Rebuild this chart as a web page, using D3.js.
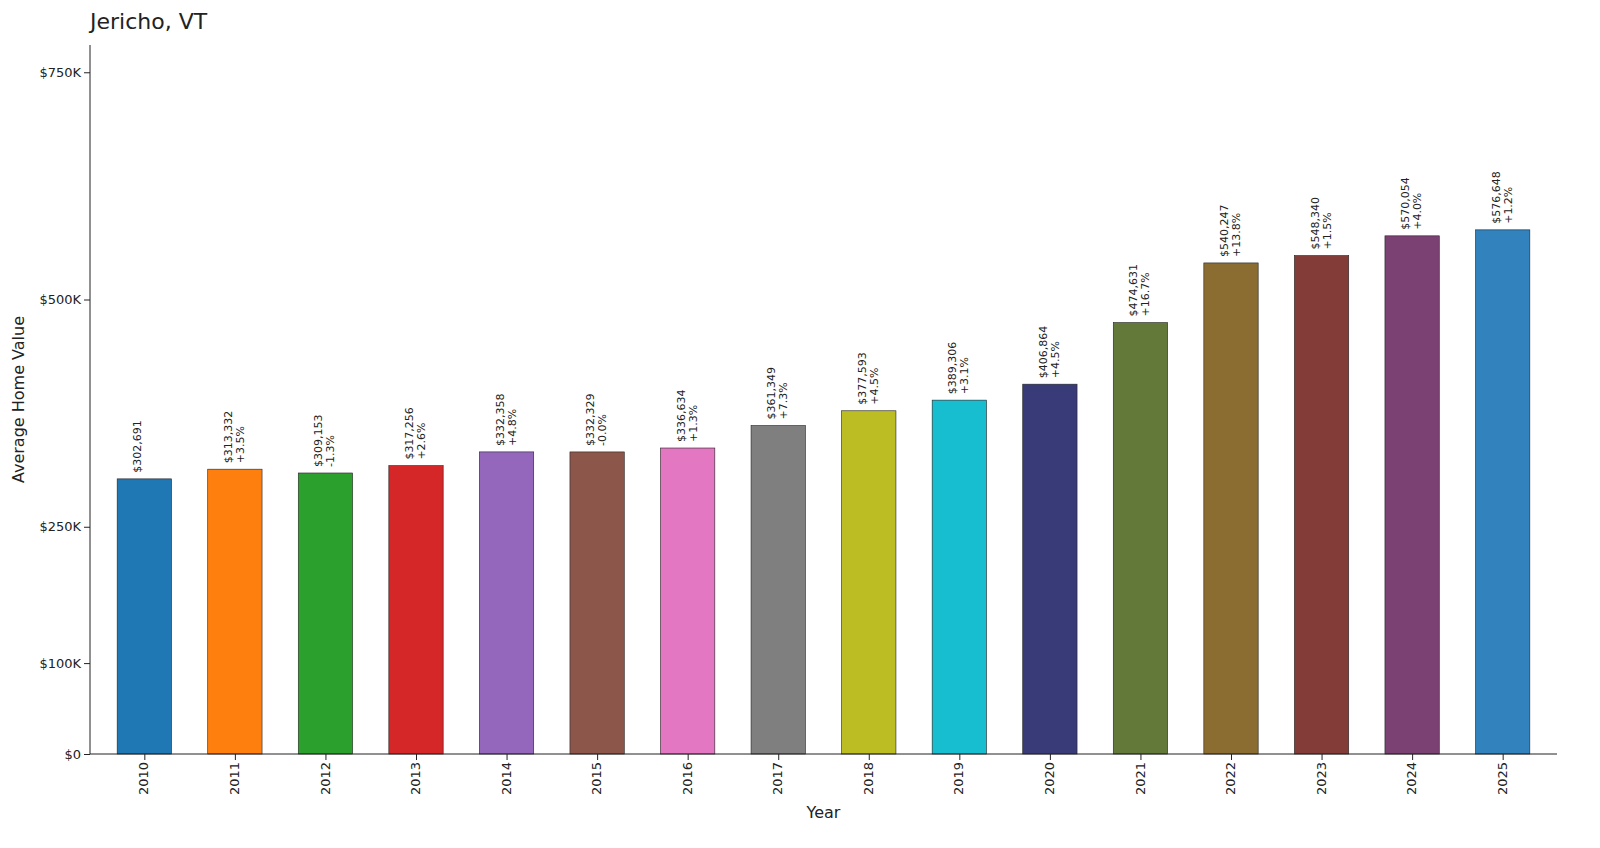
<!DOCTYPE html>
<html><head><meta charset="utf-8">
<script src="https://cdn.jsdelivr.net/npm/d3@7"></script>
<style>html,body{margin:0;padding:0;overflow:hidden;background:#fff;font-family:"DejaVu Sans",sans-serif}svg{display:block}</style>
</head><body><svg id="c" width="1600" height="848"></svg>
<script>
const years=["2010","2011","2012","2013","2014","2015","2016","2017","2018","2019","2020","2021","2022","2023","2024","2025"];
const values=[302691,313332,309153,317256,332358,332329,336634,361349,377593,389306,406864,474631,540247,548340,570054,576648];
const changes=[null,"+3.5%","-1.3%","+2.6%","+4.8%","-0.0%","+1.3%","+7.3%","+4.5%","+3.1%","+4.5%","+16.7%","+13.8%","+1.5%","+4.0%","+1.2%"];
const colors=["#1f77b4","#ff7f0e","#2ca02c","#d62728","#9467bd","#8c564b","#e377c2","#7f7f7f","#bcbd22","#17becf","#393b79","#637939","#8c6d31","#843c39","#7b4173","#3182bd"];
const yTicks=[0,100000,250000,500000,750000];
const yTickLabels=["$0","$100K","$250K","$500K","$750K"];
const svg=d3.select("#c");
const L=90,R=1557,T=45,B=754;
const x=d3.scaleLinear().domain([-0.6,15.6]).range([L,R]);
const y=d3.scaleLinear().domain([0,780000]).range([B,T]);
const bw=x(0.3)-x(-0.3);
svg.selectAll("rect.b").data(values).join("rect").attr("class","b")
 .attr("x",(d,i)=>x(i)-bw/2).attr("width",bw).attr("y",d=>y(d)).attr("height",d=>B-y(d))
 .attr("fill",(d,i)=>colors[i]).attr("stroke","#222").attr("stroke-width",0.6);
const ya=svg.append("g").attr("transform",`translate(${L},0)`)
 .call(d3.axisLeft(y).tickValues(yTicks).tickFormat((d,i)=>yTickLabels[i]).tickSizeOuter(0));
ya.select(".domain").attr("d",`M0,${B}V${T}`);
const xa=svg.append("g").attr("transform",`translate(0,${B})`)
 .call(d3.axisBottom(x).tickValues(d3.range(16)).tickFormat(i=>years[i]).tickSizeOuter(0));
xa.select(".domain").attr("d",`M${L},0H${R}`);
xa.selectAll("text").attr("transform","rotate(-90)").attr("text-anchor","end").attr("x",-8).attr("y",-1).attr("dy","0.35em");
svg.selectAll(".tick text").attr("font-size",13).attr("font-family","DejaVu Sans").attr("fill","#222");
svg.selectAll(".domain,.tick line").attr("stroke","#222");
const lab=svg.selectAll("g.l").data(values).join("g").attr("class","l")
 .attr("transform",(d,i)=>`translate(${x(i)},${y(d)-6}) rotate(-90)`);
lab.append("text").attr("font-size",11).attr("fill","#222").attr("y",-3)
 .text(d=>"$"+d3.format(",")(d));
lab.append("text").attr("font-size",11).attr("fill","#222").attr("y",9)
 .text((d,i)=>changes[i]||"");
svg.append("text").attr("x",L).attr("y",29).attr("font-size",22).attr("fill","#222").text("Jericho, VT");
svg.append("text").attr("x",(L+R)/2).attr("y",818).attr("text-anchor","middle").attr("font-size",16).attr("fill","#222").text("Year");
svg.append("text").attr("transform",`translate(24,${(T+B)/2}) rotate(-90)`).attr("text-anchor","middle").attr("font-size",16).attr("fill","#222").text("Average Home Value");
</script></body></html>
